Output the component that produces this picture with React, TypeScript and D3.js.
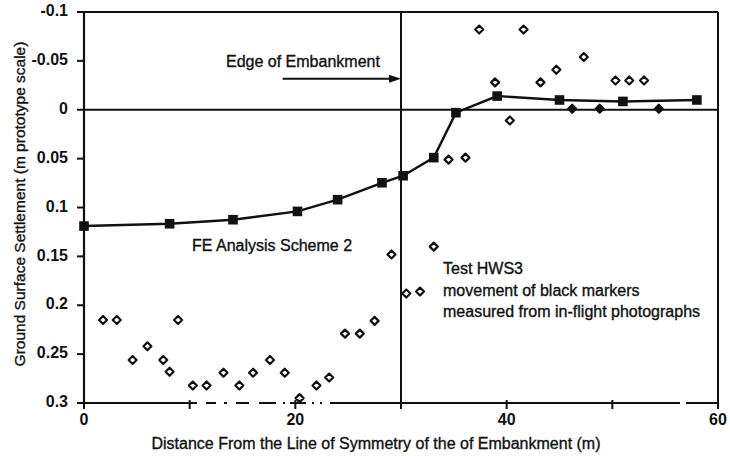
import React from "react";
import * as d3 from "d3";

// FE Analysis Scheme 2 (squares + line)
const feX = [0, 8.1, 14.1, 20.2, 24.0, 28.2, 30.2, 33.1, 35.2, 39.1, 45.0, 51.0, 58.0];
const feY = [0.119, 0.1166, 0.1125, 0.104, 0.092, 0.0747, 0.0675, 0.049, 0.003, -0.014, -0.010, -0.0085, -0.010];

// Test HWS3 measured markers (open diamonds)
const hwsX = [1.8, 3.1, 4.6, 6.0, 7.5, 8.1, 8.9, 10.3, 11.6, 13.2, 14.7, 16.0, 17.6, 19.0, 20.4, 22.0, 23.2, 24.7, 26.1, 27.5, 29.1, 30.5, 31.8, 33.1, 34.5, 36.1, 37.4, 38.9, 40.3, 41.6, 43.2, 44.7, 46.2, 47.3, 48.8, 50.3, 51.6, 53.0, 54.4];
const hwsY = [0.215, 0.215, 0.256, 0.242, 0.256, 0.268, 0.215, 0.282, 0.282, 0.269, 0.282, 0.269, 0.256, 0.269, 0.295, 0.282, 0.274, 0.229, 0.229, 0.216, 0.148, 0.188, 0.186, 0.140, 0.051, 0.049, -0.082, -0.028, 0.011, -0.082, -0.028, -0.041, -0.001, -0.054, -0.001, -0.030, -0.030, -0.030, -0.001];

const yTicks = [-0.1, -0.05, 0, 0.05, 0.1, 0.15, 0.2, 0.25, 0.3];
const yTickLabels = ["-0.1", "-0.05", "0", "0.05", "0.1", "0.15", "0.2", "0.25", "0.3"];
const xTicks = [0, 10, 20, 30, 40, 50, 60];
const xTickLabels = ["0", "", "20", "", "40", "", "60"];

const W = 730;
const H = 456;
const left = 84, right = 718, top = 12, bottom = 403;
const ink = "#111";
const font = "'Liberation Sans', Arial, Helvetica, sans-serif";
const textStroke = { stroke: ink, strokeWidth: 0.35 };

export default function App() {
  const x = d3.scaleLinear().domain([0, 60]).range([left, right]);
  const y = d3.scaleLinear().domain([-0.1, 0.3]).range([top, bottom]);

  const feLine = d3.line<number>().x((_, i) => x(feX[i])).y((_, i) => y(feY[i]))(feX) || "";

  const diamond = (cx: number, cy: number, r: number) =>
    `M${cx},${cy - r}L${cx + r},${cy}L${cx},${cy + r}L${cx - r},${cy}Z`;

  // arrow for "Edge of Embankment"
  const arrowY = y(-0.0317);
  const arrowX0 = x(18.8);
  const arrowX1 = x(30);

  return (
    <svg width={W} height={H} style={{ position: "absolute", left: 0, top: 0, background: "#fff" }}
      fontFamily={font}>
      <rect x={0} y={0} width={W} height={H} fill="#fff" />
      {/* frame */}
      <line x1={left} x2={right} y1={top} y2={top} stroke={ink} strokeWidth={2} />
      <line x1={right} x2={right} y1={top} y2={bottom} stroke={ink} strokeWidth={2} />
      <line x1={left} x2={left} y1={top} y2={bottom} stroke={ink} strokeWidth={2.2} />
      <line x1={left} x2={right} y1={bottom} y2={bottom} stroke={ink} strokeWidth={2}
        strokeDasharray="113 9 10 8 3 9 13 10 17 7 2 5 16 6 2 6 2 8 350 6 40" />
      {/* zero line and edge line */}
      <line x1={left} x2={right} y1={y(0)} y2={y(0)} stroke={ink} strokeWidth={2} />
      <line x1={x(30)} x2={x(30)} y1={top} y2={bottom} stroke={ink} strokeWidth={2} />

      {/* y ticks */}
      {yTicks.map((t, i) => (
        <g key={"yt" + i}>
          <line x1={left - 7} x2={left} y1={y(t)} y2={y(t)} stroke={ink} strokeWidth={2} />
          <text x={68} y={y(t)} textAnchor="end" dominantBaseline="middle" fontSize={16}
            fontWeight="bold" fill={ink}>{yTickLabels[i]}</text>
        </g>
      ))}
      {/* x ticks */}
      {xTicks.map((t, i) => (
        <g key={"xt" + i}>
          <line x1={x(t)} x2={x(t)} y1={bottom - 3} y2={bottom + 6} stroke={ink} strokeWidth={2} />
          {xTickLabels[i] && (
            <text x={x(t)} y={421} textAnchor="middle" dominantBaseline="middle" fontSize={16}
              fontWeight="bold" fill={ink}>{xTickLabels[i]}</text>
          )}
        </g>
      ))}

      {/* axis titles */}
      <text x={376} y={445} textAnchor="middle" dominantBaseline="middle" fontSize={16} fill={ink} {...textStroke}>
        Distance From the Line of Symmetry of the of Embankment (m)
      </text>
      <text transform={`translate(21,204) rotate(-90)`} textAnchor="middle" dominantBaseline="middle"
        fontSize={15.5} fill={ink} {...textStroke}>
        Ground Surface Settlement (m prototype scale)
      </text>

      {/* FE series */}
      <path d={feLine} fill="none" stroke={ink} strokeWidth={2.4} />
      {feX.map((v, i) => (
        <rect key={"fe" + i} x={x(v) - 4.8} y={y(feY[i]) - 4.8} width={9.6} height={9.6} fill={ink} />
      ))}

      {/* measured markers */}
      {hwsX.map((v, i) => (
        <path key={"m" + i} d={diamond(x(v), y(hwsY[i]), 4)}
          fill={Math.abs(hwsY[i]) < 0.005 ? ink : "#fff"} stroke={ink}
          strokeWidth={2.2} strokeLinejoin="round" />
      ))}

      {/* annotations */}
      <text x={226} y={63} dominantBaseline="middle" fontSize={16} fill={ink} {...textStroke}>Edge of Embankment</text>
      <line x1={arrowX0} x2={arrowX1 - 9} y1={arrowY} y2={arrowY} stroke={ink} strokeWidth={2} />
      <path d={`M${arrowX1},${arrowY}L${arrowX1 - 12},${arrowY - 4}L${arrowX1 - 12},${arrowY + 4}Z`} fill={ink} />

      <text x={192} y={247} dominantBaseline="middle" fontSize={16} fill={ink} {...textStroke}>FE Analysis Scheme 2</text>
      <text x={443} y={270} dominantBaseline="middle" fontSize={16} fill={ink} {...textStroke}>Test HWS3</text>
      <text x={443} y={292} dominantBaseline="middle" fontSize={16} fill={ink} {...textStroke}>movement of black markers</text>
      <text x={443} y={313} dominantBaseline="middle" fontSize={16} fill={ink} {...textStroke}>measured from in-flight photographs</text>
    </svg>
  );
}
